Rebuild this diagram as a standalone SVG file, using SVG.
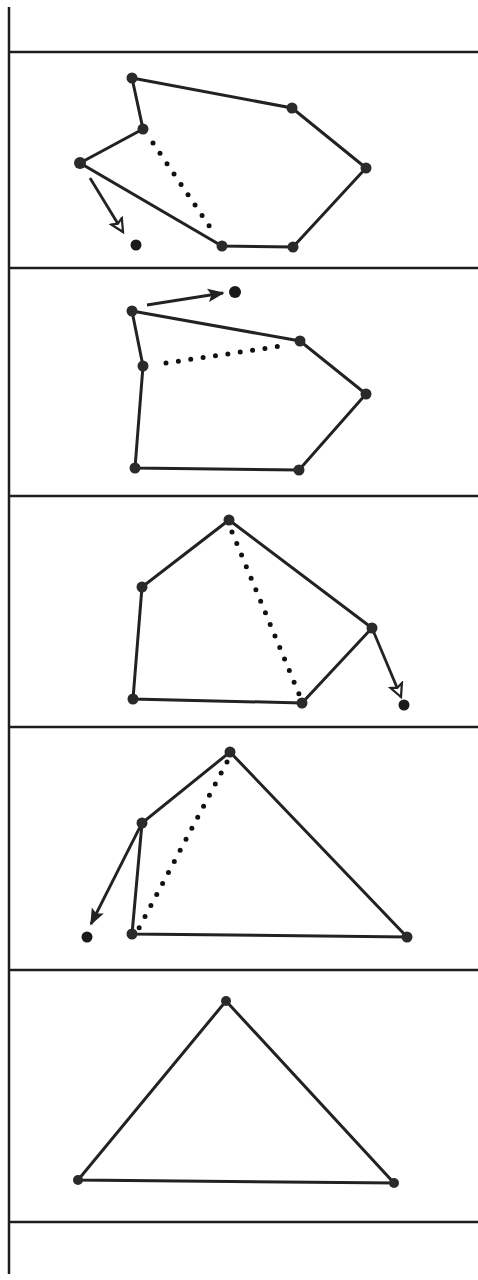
<svg xmlns="http://www.w3.org/2000/svg" width="478" height="1280" viewBox="0 0 478 1280">
<style>
.frame{stroke:#1e1e1e;stroke-width:2.5;fill:none}
.edge{stroke:#222;stroke-width:3;fill:none;stroke-linecap:round}
.dot{stroke:#111;stroke-width:5;stroke-linecap:round;stroke-dasharray:0 12.5;fill:none}
.v{fill:#2a2a2a}
.t{fill:#1a1a1a}
.arr{stroke:#222;stroke-width:2.8;fill:none}
</style>
<defs>
<marker id="ah" viewBox="0 0 10 10" refX="9" refY="5" markerWidth="6" markerHeight="6" orient="auto" markerUnits="strokeWidth">
<path d="M0,1 L10,5 L0,9 L2,5 Z" fill="#222"/>
</marker>
<marker id="ahh" viewBox="0 0 12 12" refX="10" refY="6" markerWidth="6" markerHeight="6" orient="auto" markerUnits="strokeWidth">
<path d="M1,1.5 L10,6 L1,10.5 L3,6 Z" fill="#fff" stroke="#222" stroke-width="1.6"/>
</marker>
</defs>
<g id="frame">
<line class="frame" x1="9" y1="7" x2="9" y2="1274"/>
<line class="frame" x1="9" y1="52" x2="478" y2="52"/>
<line class="frame" x1="9" y1="268" x2="478" y2="268"/>
<line class="frame" x1="9" y1="496" x2="478" y2="496"/>
<line class="frame" x1="9" y1="727" x2="478" y2="727"/>
<line class="frame" x1="9" y1="970" x2="478" y2="970"/>
<line class="frame" x1="9" y1="1222" x2="478" y2="1222"/>
</g>
<g id="connectors">
<!-- panel 1 -->
<polygon class="edge" points="132,78 292,108 366,168 293,247 222,246 80,163 143,129"/>
<line class="dot" x1="153" y1="143" x2="216" y2="236"/>
<line class="arr" x1="90" y1="178" x2="123" y2="232" marker-end="url(#ahh)"/>
<!-- panel 2 -->
<polygon class="edge" points="132,311 300,341 366,394 299,470 135,468 143,366"/>
<line class="dot" x1="166" y1="363" x2="288" y2="345"/>
<line class="arr" x1="147" y1="305" x2="223" y2="293" marker-end="url(#ah)"/>
<!-- panel 3 -->
<polygon class="edge" points="229,520 372,628 302,703 133,699 142,587"/>
<line class="dot" x1="232" y1="532" x2="299" y2="694"/>
<line class="arr" x1="372" y1="628" x2="401" y2="697" marker-end="url(#ahh)"/>
<!-- panel 4 -->
<polygon class="edge" points="230,752 407,937 132,934 142,823"/>
<line class="dot" x1="227" y1="762" x2="139" y2="928"/>
<line class="arr" x1="142" y1="823" x2="91" y2="924" marker-end="url(#ah)"/>
<!-- panel 5 -->
<polygon class="edge" points="226,1001 394,1183 78,1180"/>
</g>
<g id="panel1">
<circle class="v" cx="132" cy="78" r="5.5"/>
<circle class="v" cx="292" cy="108" r="5.5"/>
<circle class="v" cx="366" cy="168" r="5.5"/>
<circle class="v" cx="293" cy="247" r="5.5"/>
<circle class="v" cx="222" cy="246" r="5.5"/>
<circle class="v" cx="80" cy="163" r="6"/>
<circle class="v" cx="143" cy="129" r="5.5"/>
<circle class="t" cx="136" cy="245" r="5.5"/>
</g>
<g id="panel2">
<circle class="v" cx="132" cy="311" r="5.5"/>
<circle class="v" cx="300" cy="341" r="5.5"/>
<circle class="v" cx="366" cy="394" r="5.5"/>
<circle class="v" cx="299" cy="470" r="5.5"/>
<circle class="v" cx="135" cy="468" r="5.5"/>
<circle class="v" cx="143" cy="366" r="5.5"/>
<circle class="t" cx="235" cy="292" r="6"/>
</g>
<g id="panel3">
<circle class="v" cx="229" cy="520" r="5.5"/>
<circle class="v" cx="372" cy="628" r="5.5"/>
<circle class="v" cx="302" cy="703" r="5.5"/>
<circle class="v" cx="133" cy="699" r="5.5"/>
<circle class="v" cx="142" cy="587" r="5.5"/>
<circle class="t" cx="404" cy="705" r="5.5"/>
</g>
<g id="panel4">
<circle class="v" cx="230" cy="752" r="5.5"/>
<circle class="v" cx="407" cy="937" r="5.5"/>
<circle class="v" cx="132" cy="934" r="5.5"/>
<circle class="v" cx="142" cy="823" r="5.5"/>
<circle class="t" cx="87" cy="937" r="5.5"/>
</g>
<g id="panel5">
<circle class="v" cx="226" cy="1001" r="5"/>
<circle class="v" cx="394" cy="1183" r="5"/>
<circle class="v" cx="78" cy="1180" r="5"/>
</g>
</svg>
